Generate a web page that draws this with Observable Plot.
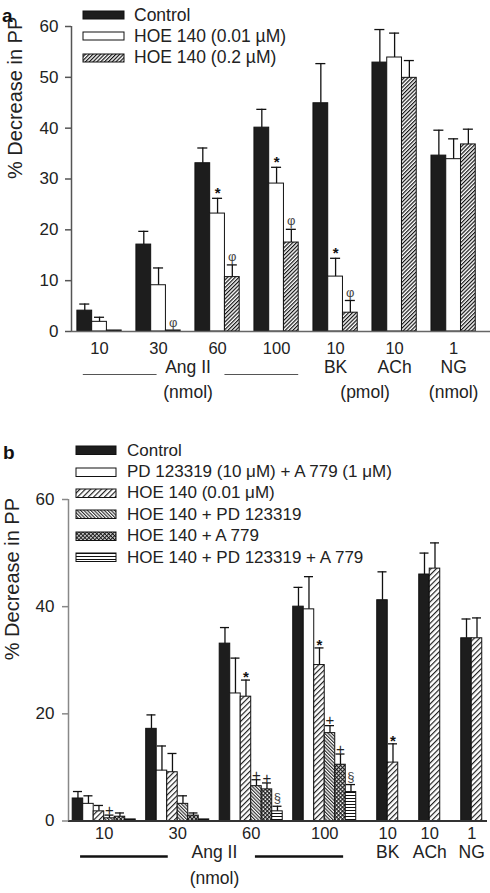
<!DOCTYPE html>
<html><head><meta charset="utf-8">
<script src="https://cdn.jsdelivr.net/npm/d3@7"></script>
<script src="https://cdn.jsdelivr.net/npm/@observablehq/plot@0.6"></script>
<style>
body{margin:0;background:#fff;font-family:"Liberation Sans",Arial,sans-serif;}
#wrap{position:relative;width:490px;height:893px;overflow:hidden;background:#fff}
.panel{position:absolute;left:0}
.tag{position:absolute;font-weight:bold;font-size:19px;color:#111;line-height:20px}
</style></head><body>
<svg width="0" height="0" style="position:absolute">
<defs>
<pattern id="hatchA" patternUnits="userSpaceOnUse" width="2.7" height="2.7" patternTransform="rotate(45)">
<rect width="2.7" height="2.7" fill="#fff"/><line x1="0.6" y1="0" x2="0.6" y2="2.7" stroke="#111" stroke-width="1.2"/></pattern>
<pattern id="diagB" patternUnits="userSpaceOnUse" width="3.8" height="3.8" patternTransform="rotate(45)">
<rect width="3.8" height="3.8" fill="#fff"/><line x1="0.6" y1="0" x2="0.6" y2="3.8" stroke="#111" stroke-width="1.1"/></pattern>
<pattern id="backB" patternUnits="userSpaceOnUse" width="2.4" height="2.4" patternTransform="rotate(-45)">
<rect width="2.4" height="2.4" fill="#fff"/><line x1="0.6" y1="0" x2="0.6" y2="2.4" stroke="#111" stroke-width="1"/></pattern>
<pattern id="crossB" patternUnits="userSpaceOnUse" width="2.8" height="2.8" patternTransform="rotate(45)">
<rect width="2.8" height="2.8" fill="#fff"/><line x1="0.6" y1="0" x2="0.6" y2="2.8" stroke="#111" stroke-width="1.1"/><line x1="0" y1="0.6" x2="2.8" y2="0.6" stroke="#111" stroke-width="1.1"/></pattern>
<pattern id="horizB" patternUnits="userSpaceOnUse" width="3" height="3">
<rect width="3" height="3" fill="#fff"/><line x1="0" y1="1.5" x2="3" y2="1.5" stroke="#111" stroke-width="1"/></pattern>
</defs></svg>
<div id="wrap"></div>
<script>
// ---------- Panel a data ----------
const groupsA = ["10","30","60","100","10","10","1"];
const seriesA = ["Control","HOE 140 (0.01 µM)","HOE 140 (0.2 µM)"];
const controlA = [4.1,17.1,33.1,40.1,44.9,52.9,34.6];
const controlErrA = [1.3,2.6,3.0,3.6,7.8,6.5,5.0];
const hoeLowA = [1.9,9.1,23.2,29.1,10.8,53.9,33.9];
const hoeLowErrA = [0.9,3.4,3.0,3.2,3.6,4.8,4.0];
const hoeHighA = [0.2,0.2,10.7,17.5,3.7,49.9,36.8];
const hoeHighErrA = [0,0,2.4,2.6,2.4,3.4,3.0];
const hoeLowSigA = [null,null,"*","*","*",null,null];
const hoeHighSigA = [null,"φ","φ","φ","φ",null,null];
const drugLabelsA = ["Ang II","BK","ACh","NG"];
const drugSpansA = [[0,3],[4,4],[5,5],[6,6]];
const unitLabelsA = ["(nmol)","(pmol)","(nmol)"];
const unitSpansA = [[0,3],[4,5],[6,6]];
const yTicksA = [0,10,20,30,40,50,60];

// ---------- Panel b data ----------
const groupsB = ["10","30","60","100","10","10","1"];
const seriesB = ["Control","PD 123319 (10 μM) + A 779 (1 μM)","HOE 140 (0.01 μM)","HOE 140 + PD 123319","HOE 140 + A 779","HOE 140 + PD 123319 + A 779"];
const controlB = [4.2,17.2,33.1,40.0,41.2,46.0,34.1];
const controlErrB = [1.3,2.6,3.0,3.6,5.3,4.0,3.6];
const pdA779B = [3.2,9.4,23.8,39.5,null,null,null];
const pdA779ErrB = [1.5,4.6,6.6,6.1,null,null,null];
const hoeB = [1.8,9.1,23.2,29.1,10.9,47.1,34.1];
const hoeErrB = [1.1,3.5,3.1,3.2,3.5,4.8,3.8];
const hoePdB = [0.5,3.2,6.5,16.4,null,null,null];
const hoePdErrB = [0.6,1.5,1.2,1.4,null,null,null];
const hoeA779B = [0.8,1.0,5.9,10.5,null,null,null];
const hoeA779ErrB = [0.7,0.5,1.2,2.0,null,null,null];
const hoeAllB = [0.3,0.3,1.8,5.4,null,null,null];
const hoeAllErrB = [0,0,0.95,1.4,null,null,null];
const hoeSigB = [null,null,"*","*","*",null,null];
const hoePdSigB = ["+",null,"+","+",null,null,null];
const hoeA779SigB = [null,null,"+","+",null,null,null];
const hoeAllSigB = [null,null,"§","§",null,null,null];
const drugLabelsB = ["Ang II","BK","ACh","NG"];
const drugSpansB = [[0,3],[4,4],[5,5],[6,6]];
const unitLabelsB = ["(nmol)"];
const unitSpansB = [[0,3]];
const yTicksB = [0,20,40,60];

// ---------- helpers ----------
function buildRows(groups, seriesNames, values, errs, sigs, gaps) {
  const rows = [], info = [];
  let slot = 0;
  groups.forEach((g, gi) => {
    slot += gaps[gi];
    const start = slot;
    seriesNames.forEach((s, si) => {
      const v = values[si][gi];
      if (v == null) return;
      rows.push({gi, si, series: s, value: v, err: errs[si][gi] || 0, sig: sigs[si] ? sigs[si][gi] : null, slot});
      slot++;
    });
    info.push({label: g, start, end: slot, center: (start + slot) / 2});
  });
  return {rows, info, total: slot};
}
function spans(labels, sp, info) {
  return labels.map((l, i) => ({label: l, start: info[sp[i][0]].start, end: info[sp[i][1]].end,
    center: (info[sp[i][0]].start + info[sp[i][1]].end) / 2}));
}

const wrap = document.getElementById("wrap");

function drawPanel(data, cfg) {
  const {rows, info, total} = data;
  const x0 = -0.4, x1 = total + cfg.rightPad;
  const errRows = rows.filter(d => d.err > 0);
  const labelAt = new Map(info.map(g => [g.center, g.label]));
  const drugs = spans(cfg.drugLabels, cfg.drugSpans, info);
  const units = spans(cfg.unitLabels, cfg.unitSpans, info);
  const ang = drugs[0];
  const lines = [
    {a: ang.start + cfg.lineInset[0], b: ang.center - cfg.lineGap[0]},
    {a: ang.center + cfg.lineGap[1], b: ang.end - cfg.lineInset[1]}
  ];
  const marks = [];
  cfg.fills.forEach((f, si) => {
    marks.push(Plot.rectY(rows.filter(d => d.si === si), {x1: "slot", x2: d => d.slot + 1, y: "value", fill: f, stroke: "#111", strokeWidth: 1}));
  });
  marks.push(
    Plot.ruleX(errRows, {x: d => d.slot + 0.5, y1: "value", y2: d => d.value + d.err, stroke: "#111", strokeWidth: 1.3}),
    Plot.ruleY(errRows, {y: d => d.value + d.err, x1: d => d.slot + 0.5 - cfg.cap, x2: d => d.slot + 0.5 + cfg.cap, stroke: "#111", strokeWidth: 1.3}),
    Plot.ruleY([0], {stroke: cfg.baseColor, strokeWidth: cfg.baseWidth}),
    Plot.ruleX([x0], {y1: 0, y2: cfg.yMax, stroke: cfg.axisColor, strokeWidth: 1.5}),
    Plot.axisY({ticks: cfg.yTicks, tickSize: 6, tickPadding: cfg.tickPadY, fontSize: 17, label: null, stroke: cfg.axisColor, strokeWidth: 1.5}),
    Plot.axisX(info.map(g => g.center), {tickFormat: d => labelAt.get(d), tickSize: 0, tickPadding: cfg.tickPadX, fontSize: 16.5, label: null}),
    Plot.text(["% Decrease in PP"], {frameAnchor: "left", rotate: -90, dx: cfg.ylabDx, fontSize: 20})
  );
  Object.entries(cfg.sigStyle).forEach(([sym, st]) => {
    marks.push(Plot.text(rows.filter(d => d.sig === sym), {x: d => d.slot + 0.5, y: d => d.value + d.err, text: "sig", dy: st.dy, fontSize: st.size, fontWeight: st.weight, fill: st.color}));
  });
  drugs.forEach((d, i) => {
    marks.push(Plot.text([d], {x: "center", frameAnchor: "bottom", dy: cfg.drugDy[i], text: "label", fontSize: 17.5}));
  });
  marks.push(
    Plot.text(units, {x: "center", frameAnchor: "bottom", dy: cfg.unitDy, text: "label", fontSize: 17.5}),
    Plot.ruleY(lines, {y: () => 0, x1: "a", x2: "b", dy: cfg.lineDy, stroke: cfg.lineColor, strokeWidth: cfg.lineWidth})
  );
  const svg = Plot.plot({
    width: 490, height: cfg.height,
    marginLeft: cfg.marginLeft, marginRight: cfg.marginRight, marginTop: cfg.marginTop, marginBottom: cfg.marginBottom,
    x: {type: "linear", domain: [x0, x1], axis: null},
    y: {domain: [0, cfg.yMax], axis: null},
    style: {fontFamily: "'Liberation Sans', Arial, sans-serif", color: "#222", background: "transparent", overflow: "visible"},
    marks
  });
  const div = document.createElement("div");
  div.className = "panel";
  div.style.top = cfg.top + "px";
  div.appendChild(svg);
  wrap.appendChild(div);
}

function legend(series, fills, cfg) {
  series.forEach((s, i) => {
    const row = document.createElement("div");
    row.style.cssText = `position:absolute;left:${cfg.left}px;top:${cfg.top + i * cfg.step - 10}px;height:20px;display:flex;align-items:center;white-space:nowrap;font-size:${cfg.fontSize}px;color:#222`;
    row.innerHTML = `<svg width="${cfg.sw + 2}" height="${cfg.sh + 2}" style="display:block"><rect x="1" y="1" width="${cfg.sw}" height="${cfg.sh}" fill="${fills[i]}" stroke="#111" stroke-width="1"/></svg><span style="margin-left:${cfg.gap}px">${s}</span>`;
    wrap.appendChild(row);
  });
}
function tag(t, left, top) {
  const d = document.createElement("div");
  d.className = "tag"; d.textContent = t;
  d.style.left = left + "px"; d.style.top = top + "px";
  wrap.appendChild(d);
}

// ---------- Panel a ----------
const fillsA = ["#1d1d1d", "#fff", "url(#hatchA)"];
const dataA = buildRows(groupsA, seriesA, [controlA, hoeLowA, hoeHighA], [controlErrA, hoeLowErrA, hoeHighErrA],
  [null, hoeLowSigA, hoeHighSigA], [0,1,1,1,1,1,1]);
drawPanel(dataA, {
  top: 0, height: 420, marginLeft: 71, marginRight: 0, marginTop: 26, marginBottom: 89,
  rightPad: 1.0, yMax: 60, yTicks: yTicksA, fills: fillsA, cap: 0.34,
  tickPadY: 7, tickPadX: 11, ylabDx: -55.5,
  axisColor: "#555", baseColor: "#666", baseWidth: 1.5,
  drugLabels: drugLabelsA, drugSpans: drugSpansA, unitLabels: unitLabelsA, unitSpans: unitSpansA,
  drugDy: [41, 41, 41, 41], unitDy: 66, lineDy: 43, lineInset: [0.4, 0.0], lineGap: [2.1, 2.5],
  lineColor: "#555", lineWidth: 1.2,
  sigStyle: {"*": {dy: -5, size: 15, weight: "bold", color: "#111"}, "φ": {dy: -8, size: 13, weight: "normal", color: "#444"}}
});
legend(seriesA, fillsA, {left: 82, top: 15, step: 21.3, sw: 41, sh: 8, gap: 9, fontSize: 17.5});
tag("a", 2, 6);

// ---------- Panel b ----------
const fillsB = ["#1d1d1d", "#fff", "url(#diagB)", "url(#backB)", "url(#crossB)", "url(#horizB)"];
const dataB = buildRows(groupsB, seriesB, [controlB, pdA779B, hoeB, hoePdB, hoeA779B, hoeAllB],
  [controlErrB, pdA779ErrB, hoeErrB, hoePdErrB, hoeA779ErrB, hoeAllErrB],
  [null, null, hoeSigB, hoePdSigB, hoeA779SigB, hoeAllSigB], [0,1,1,1,2,2,2]);
drawPanel(dataB, {
  top: 440, height: 453, marginLeft: 68, marginRight: 3, marginTop: 59, marginBottom: 72.5,
  rightPad: 0.5, yMax: 60, yTicks: yTicksB, fills: fillsB, cap: 0.43,
  tickPadY: 8, tickPadX: 6, ylabDx: -55.5,
  axisColor: "#888", baseColor: "#333", baseWidth: 2,
  drugLabels: drugLabelsB, drugSpans: drugSpansB, unitLabels: unitLabelsB, unitSpans: unitSpansB,
  drugDy: [36.5, 37, 37, 37], unitDy: 62.5, lineDy: 35.5, lineInset: [0.75, 1.2], lineGap: [4.4, 3.9],
  lineColor: "#111", lineWidth: 2.5,
  sigStyle: {"*": {dy: -3, size: 15, weight: "bold", color: "#111"}, "+": {dy: -5, size: 15, weight: "normal", color: "#222"}, "§": {dy: -8, size: 13, weight: "normal", color: "#444"}}
});
legend(seriesB, fillsB, {left: 75, top: 450.5, step: 21.4, sw: 40, sh: 8.5, gap: 10, fontSize: 17});
tag("b", 3, 443);
</script>
</body></html>
